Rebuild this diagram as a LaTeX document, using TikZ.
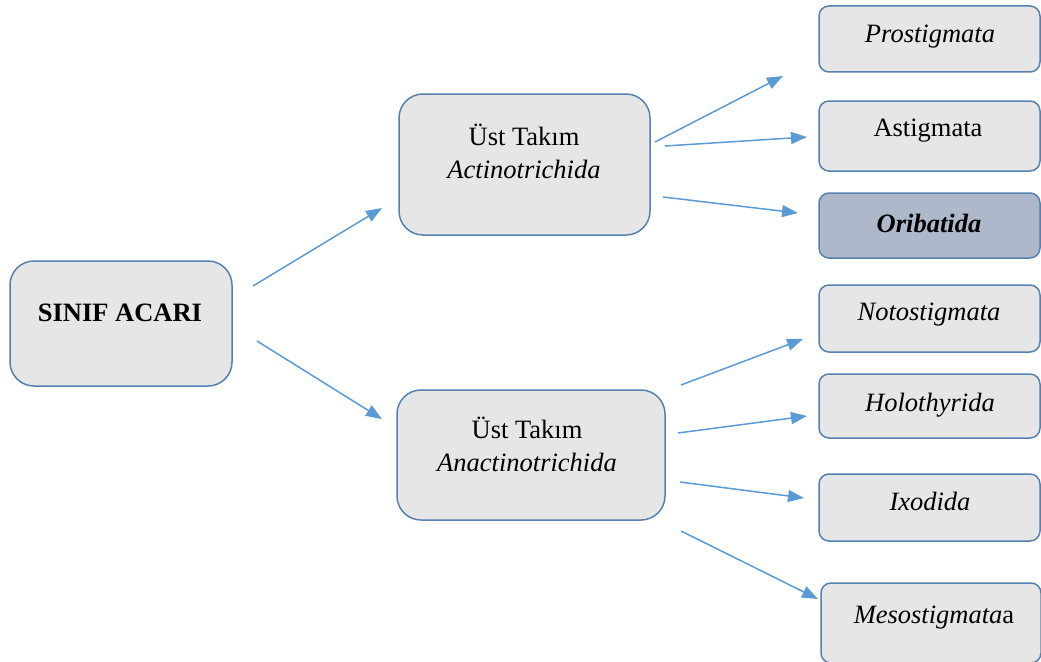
\documentclass[tikz,border=0pt]{standalone}
\usepackage{fontspec}
\setmainfont{Liberation Serif}
\usetikzlibrary{arrows.meta}
\definecolor{boxfill}{HTML}{E6E6E6}
\definecolor{boxdraw}{HTML}{5581B0}
\definecolor{orifill}{HTML}{ADB9CB}
\definecolor{arrowc}{HTML}{5B9BD5}
\tikzset{
  box/.style={draw=boxdraw, fill=boxfill, line width=1.5pt, rounded corners=10pt, inner sep=0pt},
  bigbox/.style={box, rounded corners=24pt},
  txt/.style={inner sep=0pt, align=center, font=\fontsize{26.5}{33}\selectfont},
  conn/.style={draw=arrowc, line width=1.5pt, -{Triangle[length=16pt,width=12pt]}}
}
\begin{document}
\begin{tikzpicture}[x=1pt,y=-1pt]
\useasboundingbox (0,0) rectangle (1041,661);
\fill[white] (0,0) rectangle (1041,661);
% boxes
\node[bigbox, minimum width=222pt, minimum height=125pt] (acari) at (121,323.5) {};
\node[bigbox, minimum width=251pt, minimum height=141pt] (act) at (524.5,164.5) {};
\node[bigbox, minimum width=268pt, minimum height=130pt] (anact) at (531,455) {};
\node[box, minimum width=221pt, minimum height=66pt] (pro) at (929.5,39) {};
\node[box, minimum width=221pt, minimum height=70pt] (ast) at (929.5,136) {};
\node[box, fill=orifill, minimum width=221pt, minimum height=65pt] (ori) at (929.5,225.5) {};
\node[box, minimum width=221pt, minimum height=67pt] (noto) at (929.5,318.5) {};
\node[box, minimum width=221pt, minimum height=64pt] (holo) at (929.5,406) {};
\node[box, minimum width=221pt, minimum height=67pt] (ixo) at (929.5,507.5) {};
\node[box, minimum width=220pt, minimum height=80pt] (meso) at (931,623) {};
% texts
\node[txt, font=\fontsize{26.5}{33}\selectfont\bfseries] (acariT) at (120,313) {SINIF ACARI};
\node[txt] (actT) at (524,151) {Üst Takım\\\textit{Actinotrichida}};
\node[txt] (anactT) at (527,444) {Üst Takım\\\textit{Anactinotrichida}};
\node[txt] (proT) at (930,37) {\textit{Prostigmata}};
\node[txt] (astT) at (928,131) {Astigmata};
\node[txt] (oriT) at (929,223) {\textbf{\textit{Oribatida}}};
\node[txt] (notoT) at (929,315) {\textit{Notostigmata}};
\node[txt] (holoT) at (930,405) {\textit{Holothyrida}};
\node[txt] (ixoT) at (930,501) {\textit{Ixodida}};
\node[txt] (mesoT) at (934,618) {\textit{Mesostigmata}a};
% arrow end points
\coordinate (a1s) at (253,286); \coordinate (a1e) at (382,208);
\coordinate (a2s) at (257,341); \coordinate (a2e) at (382,419);
\coordinate (b1s) at (655,142); \coordinate (b1e) at (783,76);
\coordinate (b2s) at (665,146); \coordinate (b2e) at (807,137);
\coordinate (b3s) at (663,197); \coordinate (b3e) at (798,213);
\coordinate (c1s) at (681,385); \coordinate (c1e) at (803,339);
\coordinate (c2s) at (678,433); \coordinate (c2e) at (807,416);
\coordinate (c3s) at (680,482); \coordinate (c3e) at (804,498);
\coordinate (c4s) at (681,531); \coordinate (c4e) at (818,599);
\draw[conn] (a1s) -- (a1e);
\draw[conn] (a2s) -- (a2e);
\draw[conn] (b1s) -- (b1e);
\draw[conn] (b2s) -- (b2e);
\draw[conn] (b3s) -- (b3e);
\draw[conn] (c1s) -- (c1e);
\draw[conn] (c2s) -- (c2e);
\draw[conn] (c3s) -- (c3e);
\draw[conn] (c4s) -- (c4e);
\end{tikzpicture}
\end{document}
